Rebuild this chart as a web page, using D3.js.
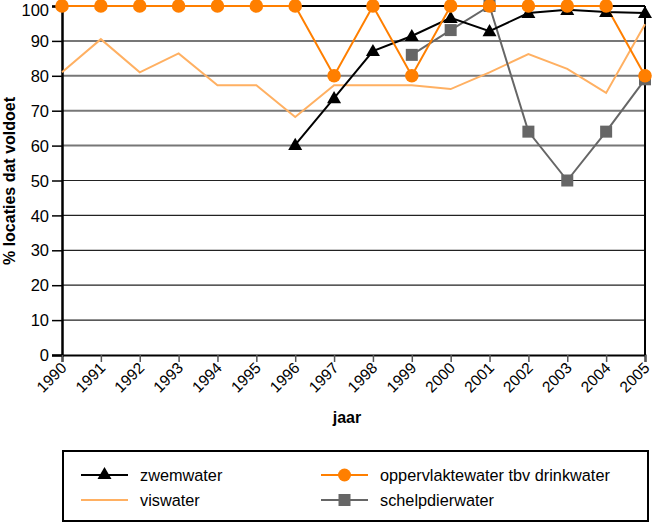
<!DOCTYPE html>
<html><head><meta charset="utf-8">
<script src="https://cdn.jsdelivr.net/npm/d3@7"></script>
<style>body{margin:0;background:#fff}svg{display:block;font-family:"Liberation Sans",Arial,sans-serif}</style>
</head><body><svg id="c" width="653" height="524"></svg>
<script>
const years = [1990,1991,1992,1993,1994,1995,1996,1997,1998,1999,2000,2001,2002,2003,2004,2005];
const yTicks = [0,10,20,30,40,50,60,70,80,90,100];
const zwemwater = [null,null,null,null,null,null,60.2,73.6,87.1,91.4,96.6,92.8,98,98.9,98.3,98];
const oppervlaktewater = [100,100,100,100,100,100,100,80,100,80,100,100,100,100,100,80];
const viswater = [81,90.5,81,86.4,77.3,77.3,68.2,77.3,77.3,77.3,76.2,81,86.2,82,75.1,94.8];
const schelpdierwater = [null,null,null,null,null,null,null,null,null,86,93.1,100,64,50,64,79];

const svg = d3.select("#c");
const L=62,R=645,T=6,B=355;
const x = d3.scaleLinear().domain([1990,2005]).range([L,R]);
const y = d3.scaleLinear().domain([0,100]).range([B,T]);

svg.append("g").selectAll("line").data(yTicks.filter(v=>v>0&&v<100)).join("line")
  .attr("x1",L).attr("x2",R).attr("y1",d=>y(d)).attr("y2",d=>y(d))
  .attr("stroke",d=>d>=60?"#777":"#222").attr("stroke-width",d=>d>=60?2:1.2);
svg.append("line").attr("x1",L).attr("x2",R).attr("y1",T).attr("y2",T).attr("stroke","#000").attr("stroke-width",2);
svg.append("line").attr("x1",R).attr("x2",R).attr("y1",T).attr("y2",B).attr("stroke","#000").attr("stroke-width",2);

const yAxis = svg.append("g").attr("transform",`translate(${L},0)`)
  .call(d3.axisLeft(y).tickValues(yTicks).tickSize(10).tickPadding(3).tickFormat(d3.format("d")));
yAxis.select(".domain").attr("stroke-width",2.5);
yAxis.selectAll(".tick line").attr("stroke-width",1.5);
yAxis.selectAll("text").attr("font-size",16.5).attr("fill","#000").attr("dy",d=>d===100?"0.55em":"0.34em");

const xAxis = svg.append("g").attr("transform",`translate(0,${B})`)
  .call(d3.axisBottom(x).tickValues(years).tickSize(7).tickFormat(d3.format("d")));
xAxis.select(".domain").attr("stroke-width",2);
xAxis.selectAll(".tick line").attr("stroke","#555").attr("stroke-width",1.5);
xAxis.selectAll("text").attr("font-size",15.5).attr("fill","#000")
  .attr("text-anchor","end").attr("dy","0").attr("y",0)
  .attr("transform","translate(5,14) rotate(-45)");

function lineOf(vals){
  return d3.line().defined(d=>d.v!=null).x(d=>x(d.yr)).y(d=>y(d.v))(years.map((yr,i)=>({yr,v:vals[i]})));
}
const pts = vals => years.map((yr,i)=>({yr,v:vals[i]})).filter(d=>d.v!=null);

svg.append("path").attr("d",lineOf(viswater)).attr("fill","none").attr("stroke","#FFB062").attr("stroke-width",2);
svg.append("path").attr("d",lineOf(schelpdierwater)).attr("fill","none").attr("stroke","#666").attr("stroke-width",2);
svg.append("path").attr("d",lineOf(zwemwater)).attr("fill","none").attr("stroke","#000").attr("stroke-width",2);
svg.append("path").attr("d",lineOf(oppervlaktewater)).attr("fill","none").attr("stroke","#FF7F00").attr("stroke-width",2);

const tri = d3.symbol().type(d3.symbolTriangle).size(85);
svg.append("g").selectAll("path").data(pts(zwemwater)).join("path")
  .attr("d",tri).attr("transform",d=>`translate(${x(d.yr)},${y(d.v)+1})`).attr("fill","#000");
svg.append("g").selectAll("rect").data(pts(schelpdierwater)).join("rect")
  .attr("x",d=>x(d.yr)-6).attr("y",d=>y(d.v)-6).attr("width",12).attr("height",12).attr("fill","#666");
svg.append("g").selectAll("circle").data(pts(oppervlaktewater)).join("circle")
  .attr("cx",d=>x(d.yr)).attr("cy",d=>y(d.v)).attr("r",6.8).attr("fill","#FF7F00");

svg.append("text").attr("transform","translate(15,181) rotate(-90)").attr("text-anchor","middle")
  .attr("font-size",16).attr("font-weight","bold").text("% locaties dat voldoet");
svg.append("text").attr("x",347).attr("y",423).attr("text-anchor","middle")
  .attr("font-size",16).attr("font-weight","bold").text("jaar");

svg.append("rect").attr("x",63).attr("y",451).attr("width",585).attr("height",70)
  .attr("fill","none").attr("stroke","#000").attr("stroke-width",2);
const leg = [
  {name:"zwemwater",color:"#000",m:"tri",cx:81,cy:475},
  {name:"oppervlaktewater tbv drinkwater",color:"#FF7F00",m:"circ",cx:321,cy:475},
  {name:"viswater",color:"#FFB062",m:null,cx:81,cy:500},
  {name:"schelpdierwater",color:"#666",m:"sq",cx:321,cy:500}
];
const lg = svg.append("g").selectAll("g").data(leg).join("g").attr("transform",d=>`translate(${d.cx},${d.cy})`);
lg.append("line").attr("x1",0).attr("x2",47).attr("stroke",d=>d.color).attr("stroke-width",2);
lg.filter(d=>d.m==="tri").append("path").attr("d",tri).attr("transform","translate(23.5,0)").attr("fill","#000");
lg.filter(d=>d.m==="circ").append("circle").attr("cx",23.5).attr("r",6.5).attr("fill","#FF7F00");
lg.filter(d=>d.m==="sq").append("rect").attr("x",17.5).attr("y",-6).attr("width",12).attr("height",12).attr("fill","#666");
lg.append("text").attr("x",59).attr("y",6).attr("font-size",16.3).text(d=>d.name);
</script></body></html>
